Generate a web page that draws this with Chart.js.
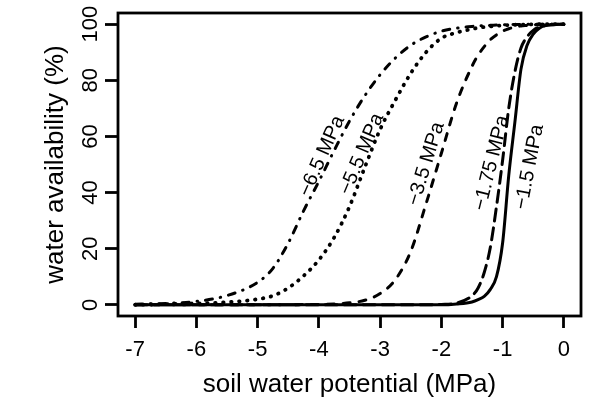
<!DOCTYPE html>
<html>
<head>
<meta charset="utf-8">
<script src="https://cdn.jsdelivr.net/npm/chart.js@4/dist/chart.umd.min.js"></script>
<style>
html,body{margin:0;padding:0;background:#fff;}
#wrap{width:600px;height:420px;}
</style>
</head>
<body>
<div id="wrap"><canvas id="c" width="600" height="420"></canvas></div>
<script>
// soil water potential (MPa) grid
const potential = [-7, -6.5, -6, -5.5, -5, -4.75, -4.5, -4.25, -4, -3.75, -3.5, -3.25, -3, -2.75, -2.5, -2.25, -2, -1.75, -1.5, -1.4, -1.3, -1.2, -1.1, -1, -0.9, -0.8, -0.7, -0.6, -0.5, -0.4, -0.3, -0.2, 0];
// water availability (%) for each threshold
const avail65  = [0.2, 0.5, 1.2, 3.3, 8, 13, 22, 33.5, 44, 55, 65.5, 74.5, 82, 88, 92.5, 95.5, 97.5, 98.6, 99.2, 99.4, 99.5, 99.6, 99.7, 99.8, 99.85, 99.9, 99.9, 99.95, 100, 100, 100, 100, 100];
const avail55  = [0, 0.2, 0.5, 0.9, 2.0, 3.2, 6, 10.3, 16, 24, 35, 49, 62.5, 73, 82.5, 90, 95, 97, 98.3, 98.7, 99, 99.2, 99.4, 99.6, 99.7, 99.8, 99.85, 99.9, 99.95, 100, 100, 100, 100];
const avail35  = [0, 0, 0, 0, 0, 0, 0, 0.1, 0.1, 0.3, 0.7, 1.6, 4, 9, 19, 36, 54, 72, 85, 89, 92, 94.5, 96.2, 97.5, 98.4, 99, 99.4, 99.6, 99.8, 99.9, 100, 100, 100];
const avail175 = [0, 0, 0, 0, 0, 0, 0, 0, 0, 0, 0, 0, 0, 0, 0, 0, 0.1, 0.6, 3.2, 6, 11.5, 20.5, 35, 51.5, 70, 83, 91.5, 95.5, 97.8, 99, 99.5, 99.8, 100];
const avail15  = [0, 0, 0, 0, 0, 0, 0, 0, 0, 0, 0, 0, 0, 0, 0, 0, 0, 0.3, 1, 1.8, 3, 5.5, 10, 22, 46, 65, 84, 92.5, 96.5, 98.6, 99.5, 99.8, 100];
const seriesNames = ['−6.5 MPa', '−5.5 MPa', '−3.5 MPa', '−1.75 MPa', '−1.5 MPa'];
const xTicks = [-7, -6, -5, -4, -3, -2, -1, 0];
const yTicks = [0, 20, 40, 60, 80, 100];

const FONT = "'Liberation Sans', Arial, Helvetica, sans-serif";
Chart.defaults.font.family = FONT;
Chart.defaults.color = '#000';

const toPts = ys => potential.map((x, i) => ({x: x, y: ys[i]}));
const styles = [
  {dash: [7, 8, 0.5, 8], w: 3},
  {dash: [0.5, 7.5], w: 3.8},
  {dash: [7, 9], w: 3},
  {dash: [12, 7], w: 3},
  {dash: [], w: 3}
];
const seriesValues = [avail65, avail55, avail35, avail175, avail15];

// label placement (data units) and rotation (degrees)
const labelPlacement = [
  {x: -3.95, y: 53.0, rot: 66},
  {x: -3.30, y: 53.7, rot: 67},
  {x: -2.25, y: 50.2, rot: 73},
  {x: -1.18, y: 50.5, rot: 76},
  {x: -0.56, y: 49.1, rot: 79}
];

const boxPlugin = {
  id: 'box',
  afterDatasetsDraw(chart) {
    const {ctx, chartArea: a} = chart;
    ctx.save();
    ctx.strokeStyle = '#000';
    ctx.lineWidth = 2.8;
    ctx.strokeRect(a.left, a.top, a.right - a.left, a.bottom - a.top);
    ctx.restore();
  }
};

const yTickLabelPlugin = {
  id: 'yTickLabels',
  afterDraw(chart) {
    const ys = chart.scales.y, ctx = chart.ctx;
    ctx.save();
    ctx.font = '22px ' + FONT;
    ctx.fillStyle = '#000';
    ctx.textAlign = 'center';
    ctx.textBaseline = 'alphabetic';
    ys.ticks.forEach(t => {
      const py = ys.getPixelForValue(t.value);
      ctx.save();
      ctx.translate(ys.right - 21, py);
      ctx.rotate(-Math.PI / 2);
      ctx.fillText(String(t.value), 0, 0);
      ctx.restore();
    });
    ctx.restore();
  }
};

const curveLabelPlugin = {
  id: 'curveLabels',
  afterDatasetsDraw(chart) {
    const {ctx, scales: {x, y}} = chart;
    ctx.save();
    ctx.font = '20px ' + FONT;
    ctx.fillStyle = '#000';
    ctx.textAlign = 'center';
    ctx.textBaseline = 'middle';
    labelPlacement.forEach((p, i) => {
      ctx.save();
      ctx.translate(x.getPixelForValue(p.x), y.getPixelForValue(p.y));
      ctx.rotate(-p.rot * Math.PI / 180);
      ctx.fillText(seriesNames[i], 0, 0);
      ctx.restore();
    });
    ctx.restore();
  }
};

new Chart(document.getElementById('c'), {
  type: 'line',
  data: {
    datasets: seriesValues.map((v, i) => ({
      label: seriesNames[i],
      data: toPts(v),
      borderColor: '#000',
      borderWidth: styles[i].w,
      borderDash: styles[i].dash,
      borderCapStyle: 'round',
      borderJoinStyle: 'round',
      pointRadius: 0,
      fill: false,
      cubicInterpolationMode: 'monotone'
    }))
  },
  options: {
    responsive: false,
    animation: false,
    devicePixelRatio: 1,
    layout: {padding: {top: 13, right: 19, bottom: 0, left: 0}},
    plugins: {legend: {display: false}, tooltip: {enabled: false}},
    scales: {
      x: {
        type: 'linear',
        min: -7.28, max: 0.28,
        afterBuildTicks: s => { s.ticks = xTicks.map(v => ({value: v})); },
        afterFit: s => { s.height = 104; },
        border: {display: false},
        grid: {drawOnChartArea: false, drawTicks: true, tickLength: 12, tickWidth: 2.8, tickColor: '#000'},
        ticks: {font: {size: 22}, padding: 9, color: '#000', maxRotation: 0, callback: v => String(v)},
        title: {display: true, text: 'soil water potential (MPa)', font: {size: 26}, color: '#000', padding: {top: 0, bottom: 20}}
      },
      y: {
        type: 'linear',
        min: -4, max: 104,
        afterBuildTicks: s => { s.ticks = yTicks.map(v => ({value: v})); },
        afterFit: s => { s.width = 118; },
        border: {display: false},
        grid: {drawOnChartArea: false, drawTicks: true, tickLength: 13, tickWidth: 2.8, tickColor: '#000'},
        ticks: {display: false},
        title: {display: true, text: 'water availability (%)', font: {size: 26}, color: '#000', padding: {top: 40, bottom: 0}}
      }
    }
  },
  plugins: [boxPlugin, yTickLabelPlugin, curveLabelPlugin]
});
</script>
</body>
</html>
